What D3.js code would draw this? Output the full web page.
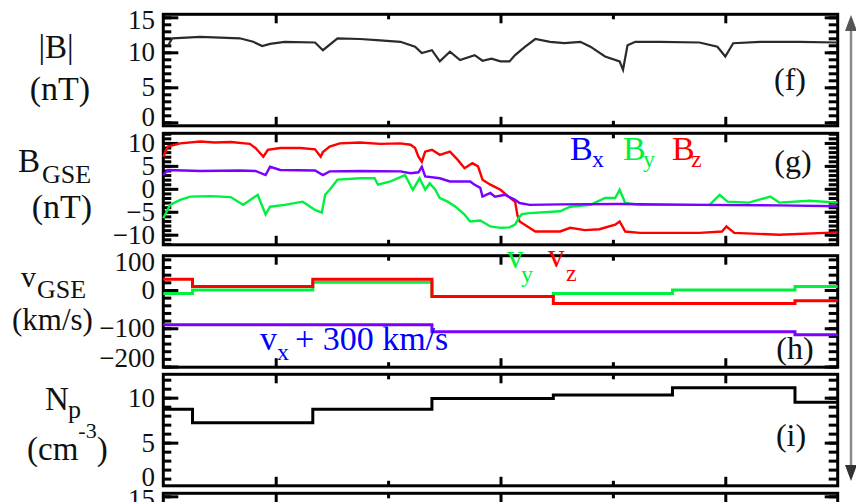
<!DOCTYPE html>
<html><head><meta charset="utf-8">
<script src="https://cdn.jsdelivr.net/npm/d3@7/dist/d3.min.js"></script>
<style>
html,body{margin:0;padding:0;background:#fff;}
svg{display:block;}
svg text{font-family:'Liberation Serif','Times New Roman',Times,serif;}
</style></head><body>
<svg id="chart" width="856" height="502" font-family="Liberation Serif, Times New Roman, serif"></svg>
<script>
// ---- time axis (hours from start of interval) ----
const timeDomain = [0, 6];
const timeMajor = [1, 3, 5];
const timeMinor = [2, 4];

// ---- (f) |B| in nT ----
const bmTime = [0.04,0.08,0.33,0.68,0.80,0.88,0.95,1.08,1.35,1.42,1.55,1.75,1.93,2.11,2.24,2.30,2.39,2.46,2.55,2.64,2.77,2.84,2.92,3.00,3.08,3.13,3.22,3.31,3.44,3.57,3.71,3.80,3.93,4.06,4.09,4.13,4.20,4.42,4.77,4.93,5.00,5.07,5.31,5.66,5.99];
const bmVal  = [10.9,12.0,12.2,12.0,11.5,10.9,11.2,11.5,11.4,10.3,12.0,11.9,11.7,11.5,10.8,9.9,10.3,8.7,10.1,8.9,9.6,8.8,9.1,8.7,8.7,9.6,10.8,11.9,11.5,11.3,11.5,10.8,9.4,8.7,7.5,11.0,11.5,11.5,11.4,10.8,9.4,11.3,11.5,11.5,11.4];

// ---- (g) B components, GSE, nT ----
const bzTime = [0.00,0.04,0.15,0.33,0.46,0.60,0.77,0.82,0.89,0.93,1.04,1.22,1.35,1.40,1.42,1.48,1.57,1.75,1.93,2.11,2.20,2.24,2.27,2.30,2.33,2.39,2.46,2.55,2.62,2.68,2.75,2.80,2.84,2.91,3.00,3.07,3.13,3.15,3.17,3.24,3.31,3.53,3.62,3.75,3.88,4.02,4.06,4.11,4.24,4.77,4.97,5.01,5.08,5.48,6.00];
const bzVal  = [7.0,9.2,9.9,10.3,10.1,10.2,9.8,8.9,7.0,8.5,8.9,8.9,8.6,7.0,8.0,9.2,9.9,10.1,9.8,9.9,9.6,8.9,7.0,5.9,8.1,8.5,7.4,8.1,6.3,4.5,5.6,4.9,2.0,0.9,-0.2,-1.7,-2.8,-5.7,-7.1,-8.2,-9.3,-9.3,-8.5,-9.0,-8.8,-7.8,-7.1,-9.3,-9.6,-9.6,-9.3,-8.2,-9.6,-10.0,-9.5];

const bxTime = [0.00,0.04,0.33,0.68,0.82,0.91,0.95,1.04,1.35,1.42,1.48,1.75,2.11,2.20,2.27,2.30,2.33,2.46,2.55,2.73,2.77,2.82,2.84,2.91,2.95,3.04,3.13,3.17,3.26,3.53,4.06,4.77,5.48,6.00];
const bxVal  = [3.0,4.1,3.9,4.0,3.9,3.0,4.8,4.1,4.0,3.0,3.8,3.9,3.8,3.4,3.6,4.8,2.7,2.3,1.6,1.6,0.9,0.2,-1.7,-0.9,-1.7,-1.3,-2.4,-3.1,-3.5,-3.4,-3.3,-3.5,-3.6,-3.8];

const byTime = [0.00,0.06,0.15,0.24,0.42,0.60,0.71,0.84,0.91,0.95,1.08,1.24,1.35,1.41,1.44,1.48,1.55,1.75,1.88,1.91,2.02,2.15,2.22,2.28,2.33,2.37,2.42,2.46,2.53,2.60,2.68,2.73,2.82,2.91,3.00,3.08,3.13,3.16,3.19,3.26,3.53,3.62,3.80,3.93,4.02,4.06,4.11,4.24,4.86,4.95,5.02,5.21,5.40,5.48,5.75,6.00];
const byVal  = [-6.4,-3.5,-2.4,-1.7,-1.6,-1.8,-3.5,-1.3,-5.6,-3.9,-3.5,-2.8,-4.6,-5.2,-1.3,-0.2,2.0,2.3,2.3,0.9,1.6,3.0,-0.2,2.3,-0.2,1.2,-0.2,-2.0,-2.8,-3.9,-5.6,-7.1,-6.9,-8.2,-8.5,-8.4,-7.8,-6.4,-5.5,-5.3,-4.9,-3.9,-3.5,-2.0,-2.0,-0.2,-3.1,-3.5,-3.5,-1.3,-2.8,-3.0,-1.7,-3.0,-2.6,-3.0];

// ---- (h) solar wind velocity, GSE, km/s (stepwise averages) ----
const vTime  = [0, 0.26, 1.33, 2.39, 3.47, 4.53, 5.62, 6.0];
const vzVal  = [28, 9, 28, -17, -35, -35, -28, -28];
const vyVal  = [-9, 0, 20, -17, -9, 0, 9, 9];
const vxVal  = [-91, -91, -91, -109, -109, -109, -117, -117]; // vx + 300

// ---- (i) proton density, cm^-3 ----
const npTime = [0, 0.26, 1.33, 2.39, 3.47, 4.53, 5.62, 6.0];
const npVal  = [8.7, 7.2, 8.7, 9.9, 10.3, 11.1, 9.5, 9.5];

// ---- layout ----
const FONT = "'Liberation Serif','Times New Roman',Times,serif";
const X0 = 163.3, X1 = 837.7, PH = 111.5;
const svg = d3.select('#chart');
const x = d3.scaleLinear().domain(timeDomain).range([X0, X1]);

const C = {red:'#ff0000', green:'#00f040', purple:'#7a00ff', blue:'#0000ff'};

function makePanel(top, domain, minorStep, majorStep, labels) {
  const y = d3.scaleLinear().domain(domain).range([top + PH, top]);
  const g = svg.append('g');
  const inDom = v => v >= domain[0] - 1e-9 && v <= domain[1] + 1e-9;
  const minor = d3.range(Math.ceil(domain[0] / minorStep) * minorStep, domain[1], minorStep).filter(inDom);
  const major = d3.range(Math.ceil(domain[0] / majorStep) * majorStep, domain[1], majorStep).filter(inDom);
  const styleTicks = sel => { sel.select('.domain').remove(); sel.selectAll('line').attr('stroke','#000').attr('stroke-width',3); sel.selectAll('text').remove(); };
  // left and right ticks, pointing inward
  g.append('g').attr('transform',`translate(${X0},0)`).call(d3.axisLeft(y).tickValues(minor).tickSize(-8)).call(styleTicks);
  g.append('g').attr('transform',`translate(${X0},0)`).call(d3.axisLeft(y).tickValues(major).tickSize(-15)).call(styleTicks);
  g.append('g').attr('transform',`translate(${X1},0)`).call(d3.axisRight(y).tickValues(minor).tickSize(-9)).call(styleTicks);
  g.append('g').attr('transform',`translate(${X1},0)`).call(d3.axisRight(y).tickValues(major).tickSize(-13)).call(styleTicks);
  // top and bottom time ticks
  g.append('g').attr('transform',`translate(0,${top})`).call(d3.axisTop(x).tickValues(timeMajor).tickSize(-9)).call(styleTicks);
  g.append('g').attr('transform',`translate(0,${top})`).call(d3.axisTop(x).tickValues(timeMinor).tickSize(-5)).call(styleTicks);
  g.append('g').attr('transform',`translate(0,${top+PH})`).call(d3.axisBottom(x).tickValues(timeMajor).tickSize(-9)).call(styleTicks);
  g.append('g').attr('transform',`translate(0,${top+PH})`).call(d3.axisBottom(x).tickValues(timeMinor).tickSize(-5)).call(styleTicks);
  // frame
  g.append('rect').attr('x',X0).attr('y',top).attr('width',X1-X0).attr('height',PH)
    .attr('fill','none').attr('stroke','#000').attr('stroke-width',3);
  // tick labels, kept inside the panel's vertical extent
  g.selectAll('text.tl').data(labels).join('text').attr('class','tl')
    .attr('x',155).attr('y',v => Math.max(top+6, Math.min(top+PH-9, y(v))))
    .attr('dy','0.34em').attr('text-anchor','end').attr('font-size',27).attr('fill','#111')
    .attr('font-family',FONT)
    .text(v => v < 0 ? '\u2212' + Math.abs(v) : String(v));
  const data = svg.append('g');
  return {y, data, top};
}

function drawLine(p, t, v, color, width, curve) {
  const line = d3.line().x((d,i) => x(t[i])).y(d => p.y(d)).curve(curve || d3.curveLinear);
  p.data.append('path').attr('d', line(v)).attr('fill','none').attr('stroke',color)
    .attr('stroke-width',width).attr('stroke-linejoin','miter');
}

const pf = makePanel(14.3,  [-0.5, 15.43], 1, 5, [0,5,10,15]);
const pg = makePanel(133.3, [-12.2, 12.1], 1, 5, [-10,-5,0,5,10]);
const ph = makePanel(255.7, [-201.8, 89.6], 20, 100, [-200,-100,0,100]);
const pi = makePanel(374.3, [0.2, 12.6], 1, 5, [0,5,10]);
const pj = makePanel(493.3, [-0.5, 15.43], 1, 5, [15]);

// (f)
drawLine(pf, bmTime, bmVal, '#2a2a2a', 2.2);
// (g)
drawLine(pg, bzTime, bzVal, C.red, 2.4);
drawLine(pg, byTime, byVal, C.green, 2.4);
drawLine(pg, bxTime, bxVal, C.purple, 2.4);
// (h)
drawLine(ph, vTime, vxVal, C.purple, 3, d3.curveStepAfter);
drawLine(ph, vTime, vyVal, C.green, 3, d3.curveStepAfter);
drawLine(ph, vTime, vzVal, C.red, 3, d3.curveStepAfter);
// (i)
drawLine(pi, npTime, npVal, '#000', 3, d3.curveStepAfter);

// ---- text ----
function txt(xp, yp, s, size, color, anchor) {
  return svg.append('text').attr('x',xp).attr('y',yp).attr('font-size',size)
    .attr('font-family',FONT)
    .attr('fill',color || '#111').attr('text-anchor',anchor || 'start').text(s);
}
// y-axis titles
txt(56, 58, '|B|', 33, '#111', 'middle');
txt(60, 100, '(nT)', 34, '#111', 'middle');
txt(18, 172, 'B', 33);
txt(42, 183, 'GSE', 26);
txt(62, 218, '(nT)', 34, '#111', 'middle');
txt(21, 287, 'v', 30);
txt(37, 298, 'GSE', 26);
txt(12, 330, '(km/s)', 31);
txt(45, 410, 'N', 33);
txt(68, 418, 'p', 26);
const cm = svg.append('text').attr('x',27).attr('y',460).attr('font-size',33)
  .attr('font-family',FONT).attr('fill','#111');
cm.append('tspan').text('(cm');
cm.append('tspan').attr('dy',-22).attr('font-size',22).text('-3');
cm.append('tspan').attr('dy',22).text(')');

// panel letters
txt(790, 90, '(f)', 32, '#111', 'middle');
txt(793, 172, '(g)', 32, '#111', 'middle');
txt(795, 359, '(h)', 32, '#111', 'middle');
txt(791, 446, '(i)', 32, '#111', 'middle');

// legend in (g)
txt(570, 160, 'B', 34, C.blue);   txt(592, 167, 'x', 24, C.blue);
txt(623, 160, 'B', 34, C.green);  txt(643, 167, 'y', 24, C.green);
txt(672, 160, 'B', 34, C.red);    txt(691, 167, 'z', 24, C.red);

// component labels in (h)
txt(507, 268, 'v', 33, C.green); txt(521, 282, 'y', 24, C.green);
txt(548, 267, 'v', 33, C.red);   txt(566, 281, 'z', 24, C.red);
txt(260, 350, 'v', 34, C.blue);  txt(277, 360, 'x', 24, C.blue);
txt(295, 350, '+ 300 km/s', 34, C.blue);

// vertical double arrow at the right margin
const ar = svg.append('g').attr('stroke','#8a8a8a').attr('fill','#8a8a8a');
ar.append('line').attr('x1',851).attr('x2',851).attr('y1',24).attr('y2',472).attr('stroke-width',2.5);
ar.append('path').attr('d','M851,15 L845,31 L857,31 Z').attr('stroke','none').attr('fill','#555');
ar.append('path').attr('d','M851,481 L845,465 L857,465 Z').attr('stroke','none').attr('fill','#333');
</script>
</body></html>
